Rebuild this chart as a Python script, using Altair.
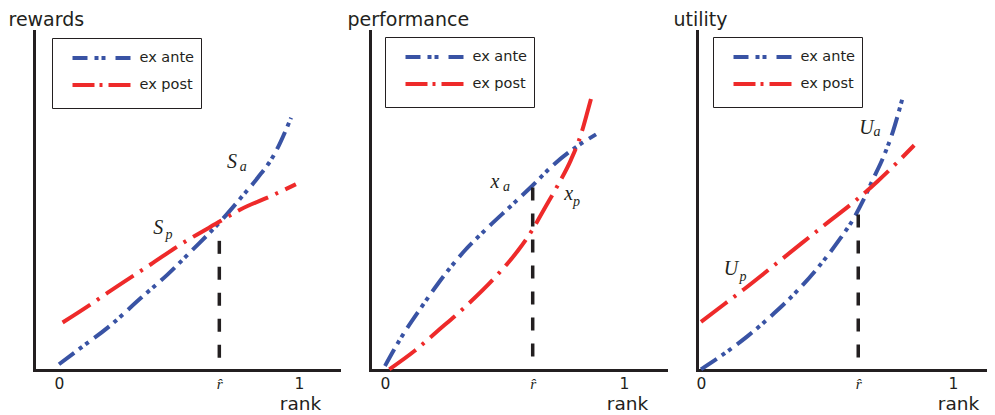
import altair as alt
import pandas as pd

BLUE = "#3953a4"
RED = "#ee2a2a"
INK = "#231f20"
SERIES = ["ex ante", "ex post"]
TITLES = ["rewards", "performance", "utility"]

# ---- panel 1: rewards ----
rew_ante_r = [0.00, 0.092, 0.203, 0.342, 0.453, 0.55, 0.675, 0.758, 0.828, 0.897, 0.967]
rew_ante_v = [0.017, 0.066, 0.125, 0.213, 0.282, 0.350, 0.44, 0.508, 0.567, 0.636, 0.744]
rew_post_r = [0.015, 0.133, 0.203, 0.383, 0.508, 0.675, 0.758, 0.883, 0.987]
rew_post_v = [0.140, 0.194, 0.228, 0.312, 0.371, 0.440, 0.474, 0.513, 0.548]
# ---- panel 2: performance ----
perf_ante_r = [0.0, 0.067, 0.151, 0.220, 0.332, 0.430, 0.527, 0.611, 0.708, 0.806, 0.883]
perf_ante_v = [0.012, 0.095, 0.184, 0.253, 0.351, 0.420, 0.484, 0.540, 0.607, 0.661, 0.695]
perf_post_r = [0.018, 0.123, 0.220, 0.332, 0.472, 0.555, 0.618, 0.667, 0.723, 0.778, 0.820, 0.848, 0.865]
perf_post_v = [0.002, 0.056, 0.115, 0.184, 0.282, 0.351, 0.415, 0.476, 0.545, 0.620, 0.695, 0.764, 0.808]
# ---- panel 3: utility ----
util_ante_r = [0.0, 0.092, 0.185, 0.291, 0.384, 0.463, 0.542, 0.608, 0.642, 0.681, 0.727, 0.761, 0.800]
util_ante_v = [0.002, 0.048, 0.100, 0.168, 0.235, 0.301, 0.377, 0.450, 0.498, 0.560, 0.634, 0.702, 0.803]
util_post_r = [0.0, 0.092, 0.172, 0.331, 0.489, 0.622, 0.701, 0.781, 0.846]
util_post_v = [0.142, 0.194, 0.239, 0.333, 0.427, 0.505, 0.557, 0.614, 0.663]

# r-hat position and top of the dashed marker per panel
rhat = [0.668, 0.618, 0.624]
rhat_top = [0.381, 0.538, 0.459]

# curve labels (letter + subscript), data coordinates
lab_main = [["S", "S"], ["x", "x"], ["U", "U"]]
lab_sub = [["a", "p"], ["a", "p"], ["a", "p"]]
lab_main_r = [[0.700, 0.393], [0.441, 0.750], [0.628, 0.090]]
lab_main_v = [[0.597, 0.400], [0.538, 0.501], [0.695, 0.280]]
lab_sub_r = [[0.753, 0.444], [0.494, 0.787], [0.685, 0.153]]
lab_sub_v = [[0.587, 0.386], [0.528, 0.484], [0.690, 0.262]]

curves = [
    (rew_ante_r, rew_ante_v, rew_post_r, rew_post_v),
    (perf_ante_r, perf_ante_v, perf_post_r, perf_post_v),
    (util_ante_r, util_ante_v, util_post_r, util_post_v),
]

# line styles
ANTE_DASH = [19, 6, 4, 4, 4, 7]
POST_DASH = [33, 8, 3, 8]
ANTE_LEG_DASH = [15, 7, 4, 3, 4, 10]
POST_LEG_DASH = [22, 5, 3, 6]

# layout per panel
widths = [305, 296, 290]
x_domains = [[-25 / 240, 280 / 240], [-15 / 239, 281 / 239], [-4 / 252, 286 / 252]]
rank_x = [266, 257, 261]
title_dx = [-26, -23, -24]
legend_xy = [(18, 7), (15, 6), (16, 6)]
H = 339

NB = "\u00a0"


def legend_common(lx, ly, dash):
    return dict(
        title=None,
        orient="none",
        legendX=lx,
        legendY=ly,
        symbolType="stroke",
        symbolSize=3364,
        symbolStrokeWidth=4,
        symbolOffset=12,
        symbolDash=dash,
        labelOffset=7,
        clipHeight=27,
        rowPadding=0,
        padding=6.5,
        labelFont="DejaVu Sans",
        labelFontSize=14.5,
        labelColor=INK,
        labelExpr="datum.label + '" + NB * 8 + "'",
    )


def make_panel(i):
    ar, av, pr, pv = curves[i]
    ante = pd.DataFrame({"r": ar, "v": av, "series": [SERIES[0]] * len(ar)})
    post = pd.DataFrame({"r": pr, "v": pv, "series": [SERIES[1]] * len(pr)})
    rule_df = pd.DataFrame({"r": [rhat[i]], "v": [rhat_top[i]], "v0": [0.0]})
    main_df = pd.DataFrame({"r": lab_main_r[i], "v": lab_main_v[i], "t": lab_main[i]})
    sub_df = pd.DataFrame({"r": lab_sub_r[i], "v": lab_sub_v[i], "t": lab_sub[i]})

    rh = rhat[i]
    x_enc = alt.X(
        "r:Q",
        scale=alt.Scale(domain=x_domains[i], nice=False, zero=False),
        axis=alt.Axis(
            values=[0, rh, 1],
            labelExpr="datum.value < 0.3 ? '0' : (datum.value > 0.9 ? '1' : 'r\u0302')",
            labelFont={"condition": {"test": "datum.value > 0.3 && datum.value < 0.9",
                                     "value": "Liberation Serif"}, "value": "DejaVu Sans"},
            labelFontStyle={"condition": {"test": "datum.value > 0.3 && datum.value < 0.9",
                                          "value": "italic"}, "value": "normal"},
            labelFontSize=15.5,
            labelPadding=6,
            labelColor=INK,
            labelFlush=False,
            labelOverlap=False,
            ticks=False,
            tickSize=0,
            grid=False,
            domainColor=INK,
            domainWidth=3,
            domainCap="square",
            title="rank",
            titleX=rank_x[i],
            titleY=39,
            titleAlign="center",
            titleBaseline="alphabetic",
            titleFont="DejaVu Sans",
            titleFontSize=18.5,
            titleFontWeight="normal",
            titleColor=INK,
        ),
    )
    y_enc = alt.Y(
        "v:Q",
        scale=alt.Scale(domain=[0, 1], nice=False, zero=False),
        axis=alt.Axis(
            labels=False,
            ticks=False,
            tickSize=0,
            grid=False,
            domainColor=INK,
            domainWidth=3,
            domainCap="square",
            title=TITLES[i],
            titleAngle=0,
            titleAlign="left",
            titleBaseline="alphabetic",
            titleX=title_dx[i],
            titleY=-6,
            titleFont="DejaVu Sans",
            titleFontSize=19,
            titleFontWeight="normal",
            titleColor=INK,
        ),
    )

    lx, ly = legend_xy[i]
    ante_layer = alt.Chart(ante).mark_line(
        strokeWidth=4, interpolate="monotone", strokeCap="butt", strokeDash=ANTE_DASH
    ).encode(
        x=x_enc,
        y=y_enc,
        color=alt.Color(
            "series:N",
            scale=alt.Scale(domain=[SERIES[0]], range=[BLUE]),
            legend=alt.Legend(
                strokeColor=INK,
                titleOrient="bottom",
                **{**legend_common(lx, ly, ANTE_LEG_DASH), "title": NB},
                titleFontSize=13,
                titlePadding=17,
            ),
        ),
    )
    post_layer = alt.Chart(post).mark_line(
        strokeWidth=4, interpolate="monotone", strokeCap="butt", strokeDash=POST_DASH
    ).encode(
        x=x_enc,
        y=y_enc,
        stroke=alt.Stroke(
            "series:N",
            scale=alt.Scale(domain=[SERIES[1]], range=[RED]),
            legend=alt.Legend(**legend_common(lx, ly + 27, POST_LEG_DASH)),
        ),
    )

    rule_layer = alt.Chart(rule_df).mark_rule(color=INK, strokeWidth=3.5, strokeDash=[13, 13]).encode(
        x=x_enc, y=y_enc, y2="v0:Q"
    )
    main_txt = alt.Chart(main_df).mark_text(
        font="Liberation Serif", fontStyle="italic", fontSize=20, align="left",
        baseline="alphabetic", color=INK
    ).encode(x=x_enc, y=y_enc, text="t:N")
    sub_txt = alt.Chart(sub_df).mark_text(
        font="Liberation Serif", fontStyle="italic", fontSize=14, align="left",
        baseline="alphabetic", color=INK
    ).encode(x=x_enc, y=y_enc, text="t:N")

    return alt.layer(ante_layer, post_layer, rule_layer, main_txt, sub_txt).properties(
        width=widths[i], height=H
    )


chart = alt.hconcat(make_panel(0), make_panel(1), make_panel(2), spacing=31, bounds="flush").resolve_scale(
    color="independent", stroke="independent", x="independent", y="independent"
).resolve_legend(color="independent", stroke="independent").properties(
    padding={"left": 0, "top": 2, "right": 0, "bottom": 0}, background="white"
).configure_view(stroke=None)

chart.save("out.html", embed_options={"renderer": "svg", "actions": False})
